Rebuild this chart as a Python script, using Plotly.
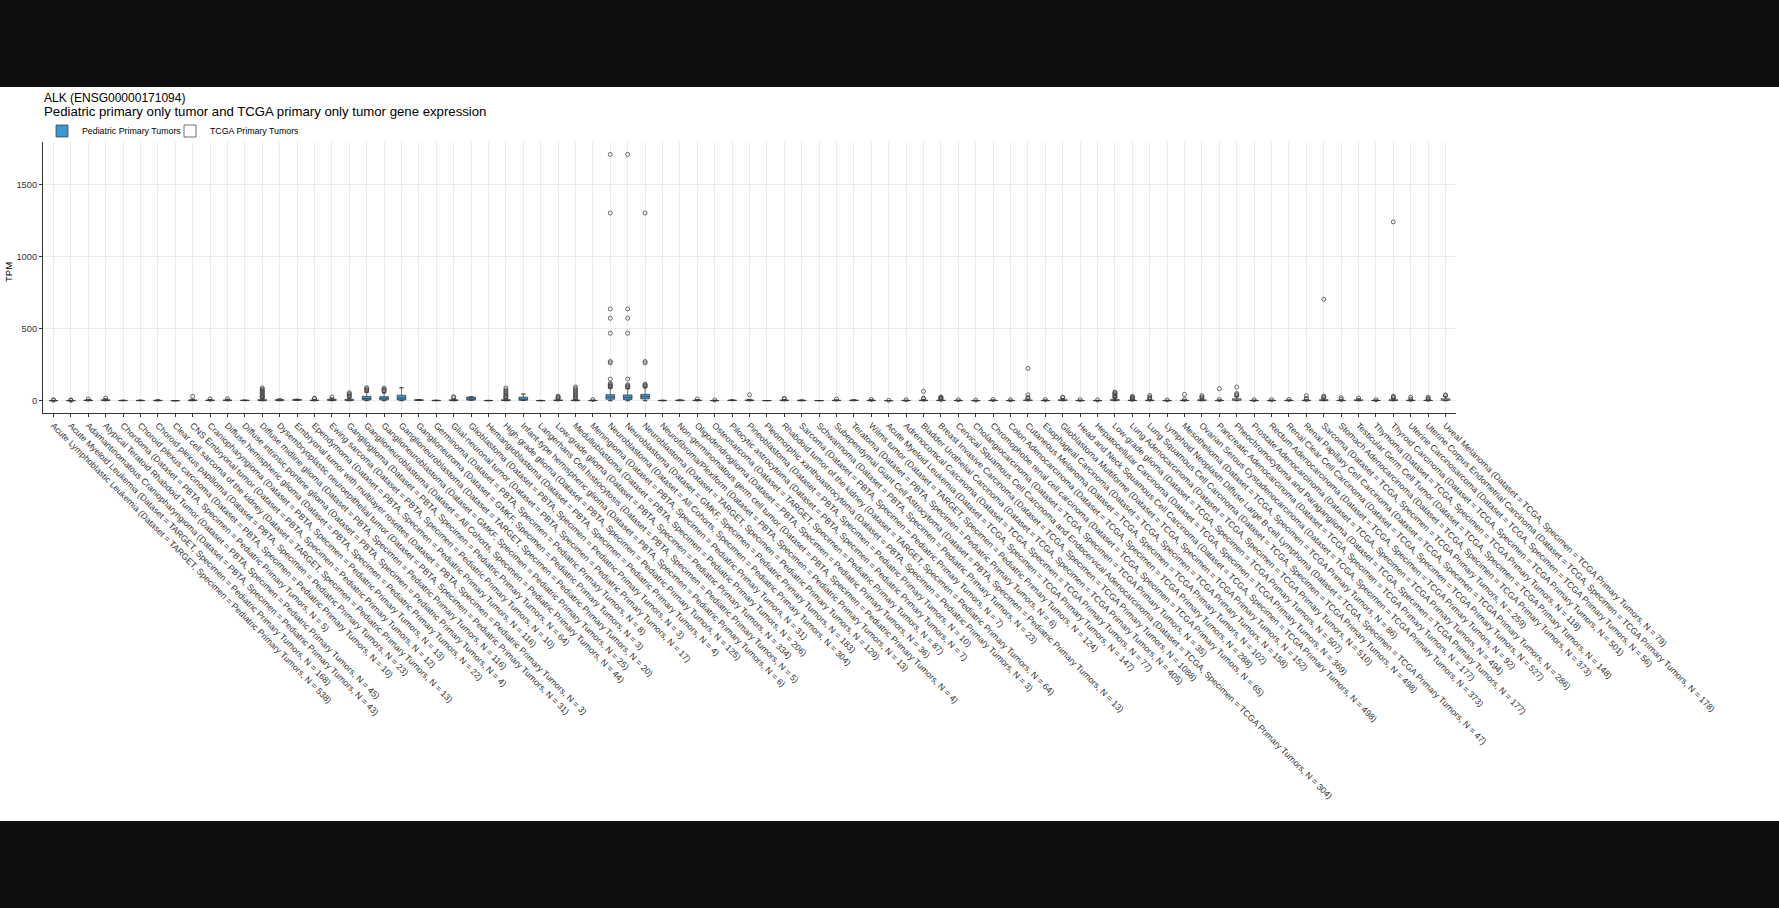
import plotly.graph_objects as go

# ---------------- data ----------------
ped_names = [
    "Acute Lymphoblastic Leukemia", "Acute Myeloid Leukemia", "Adamantinomatous Craniopharyngioma",
    "Atypical Teratoid Rhabdoid Tumor", "Chordoma", "Choroid plexus carcinoma", "Choroid plexus papilloma",
    "Clear cell sarcoma of the kidney", "CNS Embryonal tumor", "Craniopharyngioma",
    "Diffuse hemispheric glioma", "Diffuse intrinsic pontine glioma", "Diffuse midline glioma",
    "Dysembryoplastic neuroepithelial tumor", "Embryonal tumor with multilayer rosettes", "Ependymoma",
    "Ewing sarcoma", "Ganglioglioma", "Ganglioneuroblastoma", "Ganglioneuroblastoma", "Ganglioneuroblastoma",
    "Ganglioneuroma", "Germinoma", "Glial-neuronal tumor", "Glioblastoma", "Hemangioblastoma",
    "High-grade glioma", "Infant-type hemispheric glioma", "Langerhans Cell histiocytosis", "Low-grade glioma",
    "Medulloblastoma", "Meningioma", "Neuroblastoma", "Neuroblastoma", "Neuroblastoma",
    "Neurofibroma/Plexiform", "Non-germinomatous germ cell tumor", "Oligodendroglioma", "Osteosarcoma",
    "Pilocytic astrocytoma", "Pineoblastoma", "Pleomorphic xanthoastrocytoma", "Rhabdoid tumor of the kidney",
    "Sarcoma", "Schwannoma", "Subependymal Giant Cell Astrocytoma", "Teratoma", "Wilms tumor",
]
ped_dataset = [
    "TARGET", "TARGET", "PBTA", "PBTA", "PBTA", "PBTA", "PBTA", "TARGET", "PBTA", "PBTA",
    "PBTA", "PBTA", "PBTA", "PBTA", "PBTA", "PBTA", "PBTA", "PBTA", "All Cohorts", "GMKF", "TARGET",
    "GMKF", "PBTA", "PBTA", "PBTA", "PBTA", "PBTA", "PBTA", "PBTA", "PBTA",
    "PBTA", "PBTA", "All Cohorts", "GMKF", "TARGET", "PBTA", "PBTA", "PBTA", "TARGET",
    "PBTA", "PBTA", "PBTA", "TARGET", "PBTA", "PBTA", "PBTA", "PBTA", "TARGET",
]
ped_n = [538, 168, 43, 45, 5, 10, 23, 13, 12, 13, 22, 4, 116, 31, 3, 116, 10, 64, 44, 25, 20,
         3, 8, 17, 3, 4, 125, 6, 5, 334, 206, 31, 304, 183, 129, 13, 4, 36, 87, 7, 10, 3, 64,
         7, 23, 13, 6, 124]

tcga_names = [
    "Acute Myeloid Leukemia", "Adrenocortical Carcinoma", "Bladder Urothelial Carcinoma",
    "Breast Invasive Carcinoma", "Cervical Squamous Cell Carcinoma and Endocervical Adenocarcinoma",
    "Cholangiocarcinoma", "Chromophobe renal cell carcinoma", "Colon Adenocarcinoma", "Cutaneous Melanoma",
    "Esophageal Carcinoma", "Glioblastoma Multiforme", "Head and Neck Squamous Cell Carcinoma",
    "Hepatocellular Carcinoma", "Low-grade glioma", "Lung Adenocarcinoma", "Lung Squamous Cell Carcinoma",
    "Lymphoid Neoplasm Diffuse Large B-cell Lymphoma", "Mesothelioma", "Ovarian Serous Cystadenocarcinoma",
    "Pancreatic Adenocarcinoma", "Pheochromocytoma and Paraganglioma", "Prostate Adenocarcinoma",
    "Rectum Adenocarcinoma", "Renal Clear Cell Carcinoma", "Renal Papillary Cell Carcinoma", "Sarcoma",
    "Stomach Adenocarcinoma", "Testicular Germ Cell Tumor", "Thymoma", "Thyroid Carcinoma",
    "Uterine Carcinosarcoma", "Uterine Corpus Endometrial Carcinoma", "Uveal Melanoma",
]
tcga_n = [147, 77, 405, 1088, 304, 35, 65, 288, 102, 158, 152, 498, 369, 507, 510, 498, 47, 86,
          373, 177, 177, 494, 92, 527, 286, 259, 373, 148, 118, 501, 56, 178, 79]

# box statistics (TPM): q1, median, q3, lower whisker, upper whisker
ped_q1 = [0.1, 0.1, 1, 1, 0.5, 0.5, 0.5, 0, 1, 1, 1, 1, 1, 2, 3, 1, 2, 2, 5, 6, 5,
          2, 0.5, 1, 4, 0.3, 1, 3, 0.2, 1, 1, 0.5, 10, 8, 12, 0.5, 1, 1, 0.2, 1, 1, 0.3, 1,
          0.5, 0.2, 0.5, 1, 0.5]
ped_med = [0.3, 0.3, 2, 3, 1, 1, 1, 0.1, 2, 2, 2, 2, 3, 4, 5, 2, 5, 4, 15, 16, 18,
           4, 1, 3, 12, 0.8, 3, 8, 0.5, 2, 2, 1, 25, 22, 28, 1, 2, 2, 0.6, 2, 2, 0.5, 2,
           1, 0.5, 1.5, 2, 1.5]
ped_q3 = [0.8, 0.8, 4, 6, 2, 2, 3, 0.3, 5, 4, 5, 3, 7, 7, 8, 4, 10, 9, 30, 28, 38,
          6, 2, 6, 25, 1.5, 7, 25, 1, 5, 4, 2, 42, 40, 44, 2, 4, 4, 1.5, 4, 5, 1, 4,
          3, 1, 3, 4, 3]
ped_lo = [0, 0, 0, 0, 0, 0, 0, 0, 0, 0, 0, 0.5, 0, 0, 2, 0, 0, 0, 0, 0, 0,
          1, 0, 0, 3, 0, 0, 1, 0, 0, 0, 0, 0, 0, 0, 0, 0.5, 0, 0, 0.5, 0, 0.2, 0,
          0, 0, 0, 0.5, 0]
ped_hi = [2, 2, 8, 13, 3, 4, 6, 0.6, 10, 8, 10, 4, 15, 12, 10, 9, 18, 18, 60, 55, 90,
          8, 3, 12, 27, 2, 15, 46, 2, 10, 9, 4, 88, 85, 92, 3, 5, 8, 3, 6, 9, 1.2, 8,
          5, 1.5, 5, 6, 6]
ped_out = [
    [4, 6], [3, 5], [12], [18], [], [], [], [], [30], [12],
    [14], [], [20, 25, 30, 35, 42, 50, 58, 65, 72, 80, 88], [], [], [14, 18],
    [25], [25, 32, 40, 47, 55], [68, 75, 82, 90], [65, 72, 80, 87], [],
    [], [], [20, 28], [], [], [20, 26, 32, 40, 48, 56, 65, 75, 88], [], [], [15, 20, 26, 32],
    [14, 20, 28, 36, 45, 55, 65, 75, 85, 95], [8],
    [95, 100, 105, 112, 120, 150, 262, 272, 468, 572, 637, 1303, 1709],
    [92, 98, 104, 110, 150, 468, 572, 637, 1709],
    [98, 104, 110, 115, 262, 272, 1303],
    [], [], [12], [5], [], [41], [], [12, 16],
    [], [], [12], [], [9],
]

tcga_q1 = [0.1, 0.3, 0.5, 0.5, 0.3, 0.2, 0.5, 0.3, 1, 0.3, 1, 0.3, 0.2, 1.5, 0.5, 0.5, 0.3,
           0.5, 1, 0.5, 2, 0.3, 0.3, 0.5, 0.5, 1, 0.5, 1, 0.3, 1, 0.5, 0.5, 2]
tcga_med = [0.3, 0.8, 1.5, 1.5, 0.8, 0.5, 1.2, 0.8, 2.5, 0.9, 3, 0.8, 0.5, 4, 1.5, 1.5, 0.7,
            1.5, 3, 1.2, 6, 0.8, 0.8, 1.2, 1.5, 3, 1.2, 3, 1, 3, 1.5, 1.5, 6]
tcga_q3 = [0.6, 1.6, 3.5, 3, 1.8, 1, 2.5, 1.6, 5, 2, 7, 1.8, 1, 8, 3, 3.5, 1.5,
           3, 6, 2.5, 14, 1.8, 1.8, 2.5, 3, 7, 2.5, 6, 2, 7, 3, 3, 14]
tcga_lo = [0] * 33
tcga_hi = [1.3, 3, 8, 6.5, 4, 2, 5, 3.5, 11, 4.5, 15, 4, 2, 18, 6.5, 8, 3,
           6, 13, 5, 30, 4, 4, 5, 6, 16, 5, 13, 4.5, 15, 6, 6, 30]
tcga_out = [
    [3], [6], [12, 18, 65], [10, 14, 18, 22, 26], [7], [4], [8], [6], [15, 22, 40, 224],
    [8], [20, 25], [8], [5], [22, 28, 34, 40, 48, 55, 60], [10, 15, 20, 25, 30],
    [12, 18, 25, 37], [5], [10, 44], [18, 25, 35], [8, 83], [35, 42, 50, 95], [7], [7],
    [9], [10, 15, 35], [20, 26, 32, 704], [9, 20], [18], [7], [20, 25, 32, 1241],
    [10, 25], [10, 15, 25], [35, 40],
]

y_ticks = [0, 500, 1000, 1500]

# ---------------- build ----------------
ped_labels = [f"{n} (Dataset = {d}, Specimen = Pediatric Primary Tumors, N = {k})"
              for n, d, k in zip(ped_names, ped_dataset, ped_n)]
tcga_labels = [f"{n} (Dataset = TCGA, Specimen = TCGA Primary Tumors, N = {k})"
               for n, k in zip(tcga_names, tcga_n)]
labels = ped_labels + tcga_labels
ped_x = list(range(len(ped_labels)))
tcga_x = list(range(len(ped_labels), len(labels)))

FONT = "Liberation Sans, Arial, Helvetica, sans-serif"
LINE = "#333333"
BLUE = "#3d97d3"
BOXW = 0.5
CAPW = 0.12

fig = go.Figure()


def add_group(xs, q1, med, q3, lo, hi, outs, fill, name):
    fig.add_trace(go.Box(
        x=xs, q1=q1, median=med, q3=q3, lowerfence=lo, upperfence=hi,
        name=name, fillcolor=fill, line=dict(color=LINE, width=0.7),
        width=BOXW, boxpoints=False, hoverinfo="skip",
    ))
    # whisker caps
    cx, cy = [], []
    for x, a, b in zip(xs, lo, hi):
        for v in (a, b):
            cx += [x - CAPW, x + CAPW, None]
            cy += [v, v, None]
    fig.add_trace(go.Scatter(x=cx, y=cy, mode="lines", line=dict(color=LINE, width=0.7),
                             showlegend=False, hoverinfo="skip"))
    # outliers
    ox, oy = [], []
    for x, vals in zip(xs, outs):
        ox += [x] * len(vals)
        oy += vals
    fig.add_trace(go.Scatter(x=ox, y=oy, mode="markers",
                             marker=dict(symbol="circle-open", size=4, color="#444444",
                                         line=dict(width=0.8)),
                             showlegend=False, hoverinfo="skip"))


add_group(ped_x, ped_q1, ped_med, ped_q3, ped_lo, ped_hi, ped_out, BLUE, "Pediatric Primary Tumors")
add_group(tcga_x, tcga_q1, tcga_med, tcga_q3, tcga_lo, tcga_hi, tcga_out, "white", "TCGA Primary Tumors")

L, R, T, B = 43, 1456, 142, 413
W, H = 1779, 908
pw, ph = R - L, B - T


def px(xp):
    return (xp - L) / pw


def py(yp):
    return (B - yp) / ph


fig.update_layout(
    width=W, height=H, autosize=False,
    margin=dict(l=L, r=W - R, t=T, b=H - B, pad=0),
    paper_bgcolor="#0f0f0f", plot_bgcolor="rgba(0,0,0,0)",
    boxmode="overlay",
    font=dict(family=FONT, color="#000000"),
    showlegend=True,
    legend=dict(orientation="h", x=px(42), xanchor="left", y=py(131), yanchor="middle",
                font=dict(size=8.8, color="#000000"), bgcolor="rgba(0,0,0,0)",
                itemwidth=30, tracegroupgap=0, entrywidth=83, entrywidthmode="pixels"),
    shapes=[dict(type="rect", xref="paper", yref="paper", x0=px(0), x1=px(W), y0=py(821), y1=py(87),
                 fillcolor="white", line=dict(width=0), layer="below")],
    annotations=[
        dict(text="ALK (ENSG00000171094)", xref="paper", yref="paper", x=px(41.5), y=py(98),
             xanchor="left", yanchor="middle", showarrow=False, font=dict(size=12, color="#000")),
        dict(text="Pediatric primary only tumor and TCGA primary only tumor gene expression",
             xref="paper", yref="paper", x=px(41.5), y=py(112), xanchor="left", yanchor="middle",
             showarrow=False, font=dict(size=13.2, color="#000")),
        dict(text="TPM", xref="paper", yref="paper", x=px(8), y=py(272), textangle=-90,
             xanchor="center", yanchor="middle", showarrow=False, font=dict(size=9.5, color="#000")),
    ],
)

fig.update_xaxes(
    range=[-0.6, len(labels) - 0.4], tickmode="array", tickvals=list(range(len(labels))),
    ticktext=labels, tickangle=45, tickfont=dict(size=8.8, color="#333333"),
    showgrid=True, gridcolor="#ebebeb", gridwidth=1, zeroline=False,
    showline=True, linecolor=LINE, linewidth=1, ticks="outside", ticklen=3, tickcolor=LINE,
    automargin=False,
)
fig.update_yaxes(
    range=[-85.5, 1795.5], tickmode="array", tickvals=y_ticks,
    ticktext=[str(v) for v in y_ticks], tickfont=dict(size=9.3, color="#333333"),
    showgrid=True, gridcolor="#ebebeb", gridwidth=1, zeroline=False,
    showline=True, linecolor=LINE, linewidth=1, ticks="outside", ticklen=3, tickcolor=LINE,
    automargin=False,
)

fig.write_html("out.html")
